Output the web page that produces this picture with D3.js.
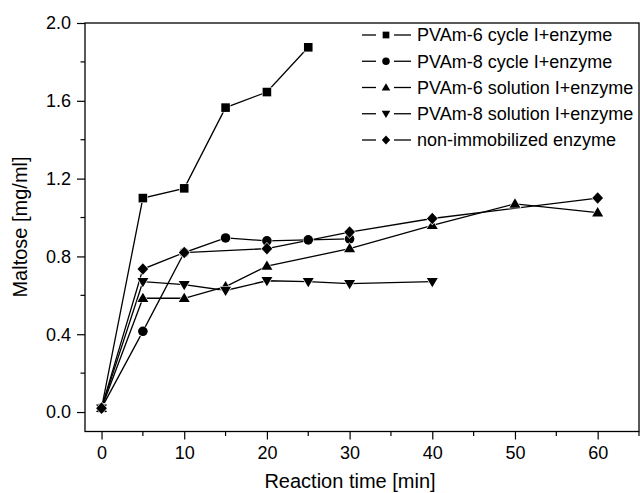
<!DOCTYPE html>
<html><head><meta charset="utf-8">
<script src="https://cdn.jsdelivr.net/npm/d3@7"></script>
<style>body{margin:0;background:#fff}svg{display:block}text{font-family:"Liberation Sans",Arial,sans-serif;fill:#000}</style>
</head><body>
<svg id="c" width="640" height="493"></svg>
<script>
const seriesNames = ["PVAm-6 cycle I+enzyme","PVAm-8 cycle I+enzyme","PVAm-6 solution I+enzyme","PVAm-8 solution I+enzyme","non-immobilized enzyme"];
const seriesSymbols = ["square","circle","triangle","triangleDown","diamond"];
const timesA = [0,5,10,15,20,25];
const valuesA = [0.02,1.10,1.15,1.565,1.645,1.875];
const timesB = [0,5,10,15,20,25,30];
const valuesB = [0.02,0.415,0.82,0.895,0.88,0.885,0.89];
const timesC = [0,5,10,15,20,30,40,50,60];
const valuesC = [0.02,0.585,0.585,0.645,0.75,0.84,0.96,1.07,1.025];
const timesD = [0,5,10,15,20,25,30,40];
const valuesD = [0.02,0.67,0.655,0.625,0.675,0.67,0.66,0.67];
const timesE = [0,5,10,20,30,40,60];
const valuesE = [0.02,0.735,0.82,0.84,0.925,0.995,1.10];
const xTicks = [0,10,20,30,40,50,60];
const xMinorTicks = [5,15,25,35,45,55,65];
const yTicks = [0.0,0.4,0.8,1.2,1.6,2.0];
const yMinorTicks = [0.2,0.6,1.0,1.4,1.8];

const allTimes=[timesA,timesB,timesC,timesD,timesE];
const allVals=[valuesA,valuesB,valuesC,valuesD,valuesE];

const svg=d3.select("#c");
const L=85,R=639,T=23,B=431.5;
const x=d3.scaleLinear().domain([-2,65]).range([L,R]);
const y=d3.scaleLinear().domain([-0.1,2.0]).range([B,T]);

svg.append("rect").attr("x",L).attr("y",T).attr("width",R-L).attr("height",B-T)
  .attr("fill","none").attr("stroke","#000").attr("stroke-width",1.3);

const gx=svg.append("g").attr("transform",`translate(0,${B})`);
gx.call(d3.axisBottom(x).tickValues(xTicks).tickSize(8).tickPadding(7).tickFormat(d3.format("d")));
gx.append("g").selectAll("line").data(xMinorTicks).join("line")
  .attr("x1",d=>x(d)).attr("x2",d=>x(d)).attr("y1",0).attr("y2",4.5).attr("stroke","#000").attr("stroke-width",1.2);
gx.select(".domain").remove();
gx.selectAll(".tick line").attr("stroke-width",1.2);
gx.selectAll(".tick text").style("font-size","18px").attr("font-family","Liberation Sans, Arial, sans-serif");

const gy=svg.append("g").attr("transform",`translate(${L},0)`);
gy.call(d3.axisLeft(y).tickValues(yTicks).tickSize(8).tickPadding(6).tickFormat(d3.format(".1f")));
gy.append("g").selectAll("line").data(yMinorTicks).join("line")
  .attr("y1",d=>y(d)).attr("y2",d=>y(d)).attr("x1",0).attr("x2",-4.5).attr("stroke","#000").attr("stroke-width",1.2);
gy.select(".domain").remove();
gy.selectAll(".tick line").attr("stroke-width",1.2);
gy.selectAll(".tick text").style("font-size","18px").attr("font-family","Liberation Sans, Arial, sans-serif");

svg.append("text").attr("x",350).attr("y",488).attr("text-anchor","middle").style("font-size","20px").text("Reaction time [min]");
svg.append("text").attr("transform","translate(27,227) rotate(-90)").attr("text-anchor","middle").style("font-size","20px").text("Maltose [mg/ml]");

function symPath(name,k){
  const p=d3.path();
  if(name==="square"){const h=4.3*k;p.rect(-h,-h,2*h,2*h);}
  else if(name==="circle"){p.arc(0,0,4.8*k,0,2*Math.PI);}
  else if(name==="triangle"){const w=5.5*k,h=9.3*k;p.moveTo(0,-h*0.6);p.lineTo(w,h*0.4);p.lineTo(-w,h*0.4);p.closePath();}
  else if(name==="triangleDown"){const w=5.5*k,h=9.3*k;p.moveTo(0,h*0.6);p.lineTo(w,-h*0.4);p.lineTo(-w,-h*0.4);p.closePath();}
  else if(name==="diamond"){const w=5.4*k,h=5.8*k;p.moveTo(0,-h);p.lineTo(w,0);p.lineTo(0,h);p.lineTo(-w,0);p.closePath();}
  return p.toString();
}

const line=d3.line();
const plot=svg.append("g");
allTimes.forEach((ts,i)=>{
  const pts=ts.map((t,j)=>[x(t),y(allVals[i][j])]);
  plot.append("path").attr("d",line(pts)).attr("fill","none").attr("stroke","#000").attr("stroke-width",1.3);
});
allTimes.forEach((ts,i)=>{
  const nm=seriesSymbols[i];
  plot.append("g").selectAll("path").data(ts.map((t,j)=>[x(t),y(allVals[i][j])])).join("path")
    .attr("d",symPath(nm,1)).attr("transform",d=>`translate(${d[0]},${d[1]})`)
    .attr("fill","#000").attr("stroke","#fff").attr("stroke-width",1.2).attr("paint-order","stroke");
});

const lg=svg.append("g");
seriesNames.forEach((n,i)=>{
  const yy=35+i*26.25;
  lg.append("line").attr("x1",362).attr("x2",376).attr("y1",yy).attr("y2",yy).attr("stroke","#000").attr("stroke-width",1.3);
  lg.append("line").attr("x1",394).attr("x2",411).attr("y1",yy).attr("y2",yy).attr("stroke","#000").attr("stroke-width",1.3);
  const nm=seriesSymbols[i];
  lg.append("path").attr("d",symPath(nm,0.78)).attr("transform",`translate(386,${yy})`).attr("fill","#000");
  lg.append("text").attr("x",417).attr("y",yy+6.3).style("font-size","18px").text(n);
});
</script>
</body></html>
